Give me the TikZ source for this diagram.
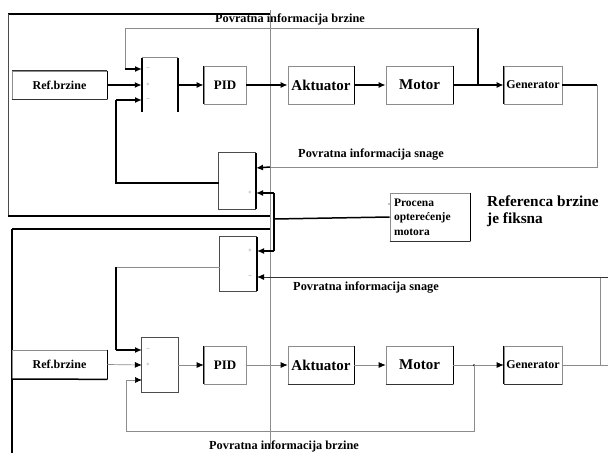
\documentclass[tikz,border=0pt]{standalone}
\usepackage{fontspec}
\setmainfont{Liberation Serif}
\usetikzlibrary{arrows.meta}
\begin{document}
\begin{tikzpicture}[x=1pt,y=-1pt,
  thn/.style={draw=black!45,line width=0.7pt},
  thk/.style={draw=black,line width=1.5pt},
  arr/.style={-{Latex[length=7pt,width=6pt]}},
  arrg/.style={-{Latex[length=7pt,width=6pt,fill=black,color=black]}},
  blk/.style={draw=black!45,line width=0.7pt,minimum height=38pt,inner sep=0pt},
  fs/.style={font=\bfseries\fontsize{#1}{#1}\selectfont},
  sumbox/.style={minimum width=36pt,minimum height=54pt,inner sep=0pt},
  sgn/.style={font=\fontsize{6}{6}\selectfont,text=black!60,inner sep=0pt},
  lbl/.style={font=\bfseries\fontsize{12.3}{13}\selectfont,inner sep=0pt}]
\useasboundingbox (0,0) rectangle (608,453);
\fill[white] (0,0) rectangle (608,453);

% ---------------- panel frames ----------------
\draw[thk] (8,14) -- (270,14);
\draw[draw=black!70,line width=1pt] (8,14) -- (8,216);
\draw[thk] (8,216) -- (270,216);
\draw[thn] (270,10) -- (270,448);
\draw[thk] (12,229) -- (270,229);
\draw[thk] (12,229) -- (12,453);

% ---------------- upper loop: blocks ----------------
\node[blk,minimum width=95pt,minimum height=28pt,fs=12] (ref1) at (59.5,85) {Ref.brzine};
\draw[thk] (ref1.north east) -- (ref1.south east);
\draw[draw=black!80,line width=1pt] (ref1.north west) -- (ref1.north east) (ref1.south west) -- (ref1.south east);

\node[sumbox] (sum1) at (160,85) {};
\draw[thn] (sum1.north west) -- (sum1.north east);
\draw[thk] (sum1.north west) -- (sum1.south west);
\draw[thk] (sum1.north east) -- (sum1.south east);
\node[sgn] at (148,69) {--};
\node[sgn] at (148,85) {+};
\node[sgn] at (148,100) {--};

\node[blk,minimum width=42pt,fs=13] (pid1) at (225,85) {PID};
\draw[thk] (pid1.north west) -- (pid1.south west);
\node[blk,minimum width=66pt,fs=15] (act1) at (321,85) {Aktuator};
\draw[thk] (act1.north east) -- (act1.south east);
\node[blk,minimum width=67pt,fs=15] (mot1) at (419.5,85) {Motor};
\draw[thk] (mot1.north east) -- (mot1.south east);
\node[blk,minimum width=58pt,fs=12] (gen1) at (533,85) {Generator};
\draw[thk] (gen1.north west) -- (gen1.south west);

\node[sumbox,minimum width=37pt,minimum height=56pt] (sum2) at (237.5,181) {};
\draw[draw=black!70,line width=0.9pt] (sum2.north east) -- (sum2.north west) -- (sum2.south west) -- (sum2.south east);
\draw[thk] (sum2.north east) -- (sum2.south east);
\node[sgn] at (250,193) {+};

% ---------------- upper loop: connectors ----------------
\coordinate (s1a) at (142,69);
\coordinate (s1c) at (142,100);
\coordinate (j1) at (478,85);
\coordinate (s2a) at (256,168);
\coordinate (s2b) at (256,193);
\coordinate (s2o) at (219,183);

\draw[thk,arr] (ref1.east) -- (sum1.west);
\draw[thk,arr] (sum1.east) -- (pid1.west);
\draw[thk,arr] (pid1.east) -- (act1.west);
\draw[thk,arr] (act1.east) -- (mot1.west);
\draw[thk,arr] (mot1.east) -- (gen1.west);
% speed feedback
\draw[thk] (j1) -- (478,28);
\draw[thn] (478,28) -- (125,28) -- (125,69);
\draw[thk,arr] (125,69) -- (s1a);
% power feedback
\draw[thk] (gen1.east) -- (597,85);
\draw[thn] (597,85) -- (597,167) -- (270,167);
\draw[thk,arr] (270,167) -- (s2a);
% corrected reference back to the summing point
\draw[thk] (s2o) -- (116,183) -- (116,100);
\draw[thk,arr] (116,100) -- (s1c);

% ---------------- load estimate ----------------
\node[draw=black!45,line width=0.7pt,minimum width=80pt,minimum height=48pt,inner sep=0pt,
  text width=72pt,align=left,font=\bfseries\fontsize{11.5}{14.5}\selectfont] (est) at (430,217)
  {Procena\\opterećenje\\motora};
\draw[thk] (est.north east) -- (est.south east);
\draw[draw=black!80,line width=1pt] (est.south west) -- (est.south east);
\fill (389,204) circle (0.7pt);
\coordinate (jv) at (274,219);
\coordinate (s3a) at (257,251);
\draw[thk] (est.west) -- (jv);
\draw[thk] (274,193) -- (274,251);
\draw[thk,arr] (274,193) -- (s2b);
\draw[thk,arr] (274,251) -- (s3a);

\node[lbl,font=\bfseries\fontsize{15.3}{17}\selectfont,align=left,anchor=north west] (fix) at (487,196)
  {Referenca brzine\\je fiksna};

% ---------------- lower loop: blocks ----------------
\node[sumbox,minimum width=37pt] (sum3) at (238.5,264) {};
\draw[draw=black!70,line width=0.9pt] (sum3.north east) -- (sum3.north west) -- (sum3.south west) -- (sum3.south east);
\draw[thk] (sum3.north east) -- (sum3.south east);
\node[sgn] at (250,251) {+};
\node[sgn] at (250,277) {--};

\node[blk,minimum width=95pt,minimum height=29pt,fs=12] (ref2) at (59.5,364.5) {Ref.brzine};
\draw[thk] (ref2.north east) -- (ref2.south east);
\draw[thk] (12,379) -- (ref2.south east);

\node[sumbox] (sum4) at (160,365) {};
\draw[draw=black!70,line width=0.9pt] (sum4.north west) rectangle (sum4.south east);
\node[sgn] at (148,350) {--};
\node[sgn] at (148,365) {+};

\node[blk,minimum width=42pt,fs=13] (pid2) at (225,365) {PID};
\draw[thk] (pid2.north west) -- (pid2.south west);
\node[blk,minimum width=66pt,fs=15] (act2) at (321,365) {Aktuator};
\draw[thk] (act2.north east) -- (act2.south east);
\draw[draw=black!80,line width=1pt] (act2.south west) -- (act2.south east);
\node[blk,minimum width=67pt,fs=15] (mot2) at (419.5,365) {Motor};
\draw[thk] (mot2.north east) -- (mot2.south east);
\draw[draw=black!80,line width=1pt] (mot2.south west) -- (mot2.south east);
\node[blk,minimum width=58pt,fs=12] (gen2) at (533,365) {Generator};
\draw[thk] (gen2.north west) -- (gen2.south west);
\draw[draw=black!80,line width=1pt] (gen2.south west) -- (gen2.south east);

% ---------------- lower loop: connectors ----------------
\coordinate (s3b) at (257,277);
\coordinate (s3o) at (220,267);
\coordinate (s4a) at (142,350);
\coordinate (s4c) at (142,380);
\coordinate (j2) at (474,365);

\draw[thn] (s3o) -- (116,267);
\draw[thk] (116,267) -- (116,350);
\draw[thk,arr] (116,350) -- (s4a);
\draw[thn,arrg] (ref2.east) -- (sum4.west);
\draw[thn,arrg] (sum4.east) -- (pid2.west);
\draw[thn,arrg] (pid2.east) -- (act2.west);
\draw[thn,arrg] (act2.east) -- (mot2.west);
\draw[thn,arrg] (mot2.east) -- (gen2.west);
\fill (j2) circle (1pt);
% speed feedback
\draw[thn] (j2) -- (474,431) -- (126,431) -- (126,380);
\draw[thn,arrg] (126,380) -- (s4c);
% power feedback
\draw[thn] (gen2.east) -- (608,365);
\draw[thn] (600,365) -- (600,277);
\draw[draw=black!80,line width=1pt,arrg] (608,277) -- (s3b);

% ---------------- signal names ----------------
\node[lbl] (t1) at (290,19) {Povratna informacija brzine};
\node[lbl] (t2) at (371,155) {Povratna informacija snage};
\node[lbl] (t3) at (366,288) {Povratna informacija snage};
\node[lbl] (t4) at (284,446) {Povratna informacija brzine};
\end{tikzpicture}
\end{document}
